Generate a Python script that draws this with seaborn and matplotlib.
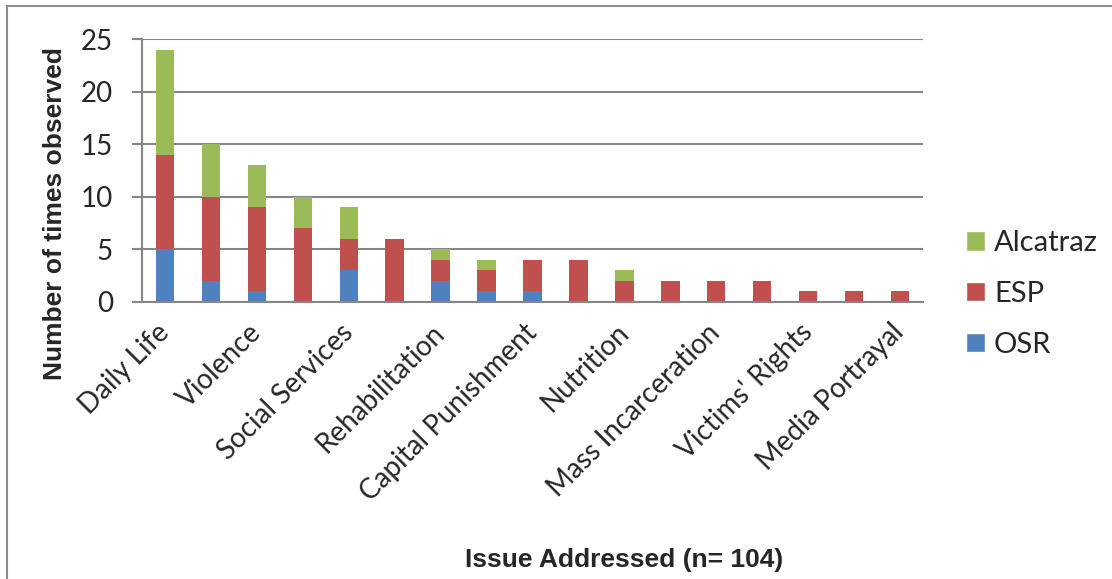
import numpy as np
import pandas as pd
import matplotlib
matplotlib.use("Agg")
import matplotlib.pyplot as plt
from matplotlib.patches import Patch, Rectangle
import seaborn as sns

# issues (only every other one is labelled on the chart)
issues = ["Daily Life", "", "Violence", "", "Social Services", "", "Rehabilitation", "",
          "Capital Punishment", "", "Nutrition", "", "Mass Incarceration", "",
          "Victims' Rights", "", "Media Portrayal"]
osr = [5, 2, 1, 0, 3, 0, 2, 1, 1, 0, 0, 0, 0, 0, 0, 0, 0]
esp = [9, 8, 8, 7, 3, 6, 2, 2, 3, 4, 2, 2, 2, 2, 1, 1, 1]
alcatraz = [10, 5, 4, 3, 3, 0, 1, 1, 0, 0, 1, 0, 0, 0, 0, 0, 0]

df = pd.DataFrame({"pos": np.arange(len(issues)), "OSR": osr, "ESP": esp, "Alcatraz": alcatraz})
df["esp_top"] = df["OSR"] + df["ESP"]
df["total"] = df["esp_top"] + df["Alcatraz"]

green = "#9BBB59"
red = "#C0504D"
blue = "#4F81BD"
grid_c = "#868686"

sns.set_style("white")
plt.rcParams["font.family"] = ["Lato", "DejaVu Sans"]

fig = plt.figure(figsize=(11.12, 5.79), dpi=100)
ax = fig.add_axes([142 / 1112, 1 - 302 / 579, (923 - 142) / 1112, (302 - 39) / 579])

# stacked bars: draw cumulative heights from the top down
sns.barplot(data=df, x="pos", y="total", color=green, width=0.4, saturation=1, ax=ax, edgecolor="none")
sns.barplot(data=df, x="pos", y="esp_top", color=red, width=0.4, saturation=1, ax=ax, edgecolor="none")
sns.barplot(data=df, x="pos", y="OSR", color=blue, width=0.4, saturation=1, ax=ax, edgecolor="none")

ax.set_xlim(-0.5, len(issues) - 0.5)
ax.set_ylim(0, 25)
ax.set_yticks([0, 5, 10, 15, 20, 25])
ax.yaxis.grid(True, color=grid_c, linewidth=1.5)
ax.set_axisbelow(True)
for s in ["top", "right"]:
    ax.spines[s].set_visible(False)
for s in ["left", "bottom"]:
    ax.spines[s].set_color(grid_c)
    ax.spines[s].set_linewidth(1.5)

# category boundary tick marks, labels at every other category
ax.set_xticks(np.arange(-0.5, len(issues)), minor=True)
ax.set_xticks(np.arange(0, len(issues), 2))
ax.set_xticklabels(issues[::2], rotation=45, ha="right", va="center",
                   rotation_mode="anchor", fontsize=20)
ax.tick_params(axis="x", which="major", length=0, pad=19)
ax.tick_params(axis="x", which="minor", length=7, width=1.5, color=grid_c)
ax.tick_params(axis="y", length=7, width=1.5, color=grid_c, labelsize=20, pad=14, left=True)
ax.set_xlabel("")
ax.set_ylabel("Number of times observed", fontsize=19, fontweight="bold",
              family="Liberation Sans")
ax.yaxis.set_label_coords((67 - 142) / 781, (302 - 214) / 263)

handles = [Patch(facecolor=green, label="Alcatraz"),
           Patch(facecolor=red, label="ESP"),
           Patch(facecolor=blue, label="OSR")]
fig.legend(handles=handles, loc="center left", bbox_to_anchor=(940 / 1112, 1 - 294 / 579),
           frameon=False, fontsize=21, handlelength=0.65, handleheight=0.65,
           handletextpad=0.3, labelspacing=0.85)

fig.text(624 / 1112, 1 - 560 / 579, "Issue Addressed (n= 104)", ha="center", va="center",
         fontsize=19, fontweight="bold", family="Liberation Sans")

# outer chart border
fig.patches.append(Rectangle((7 / 1112, -0.1), 1.2, 1.1 - 6 / 579, transform=fig.transFigure,
                             fill=False, edgecolor="#8c8c8c", linewidth=1.5))

fig.savefig("out.png", dpi=100)
